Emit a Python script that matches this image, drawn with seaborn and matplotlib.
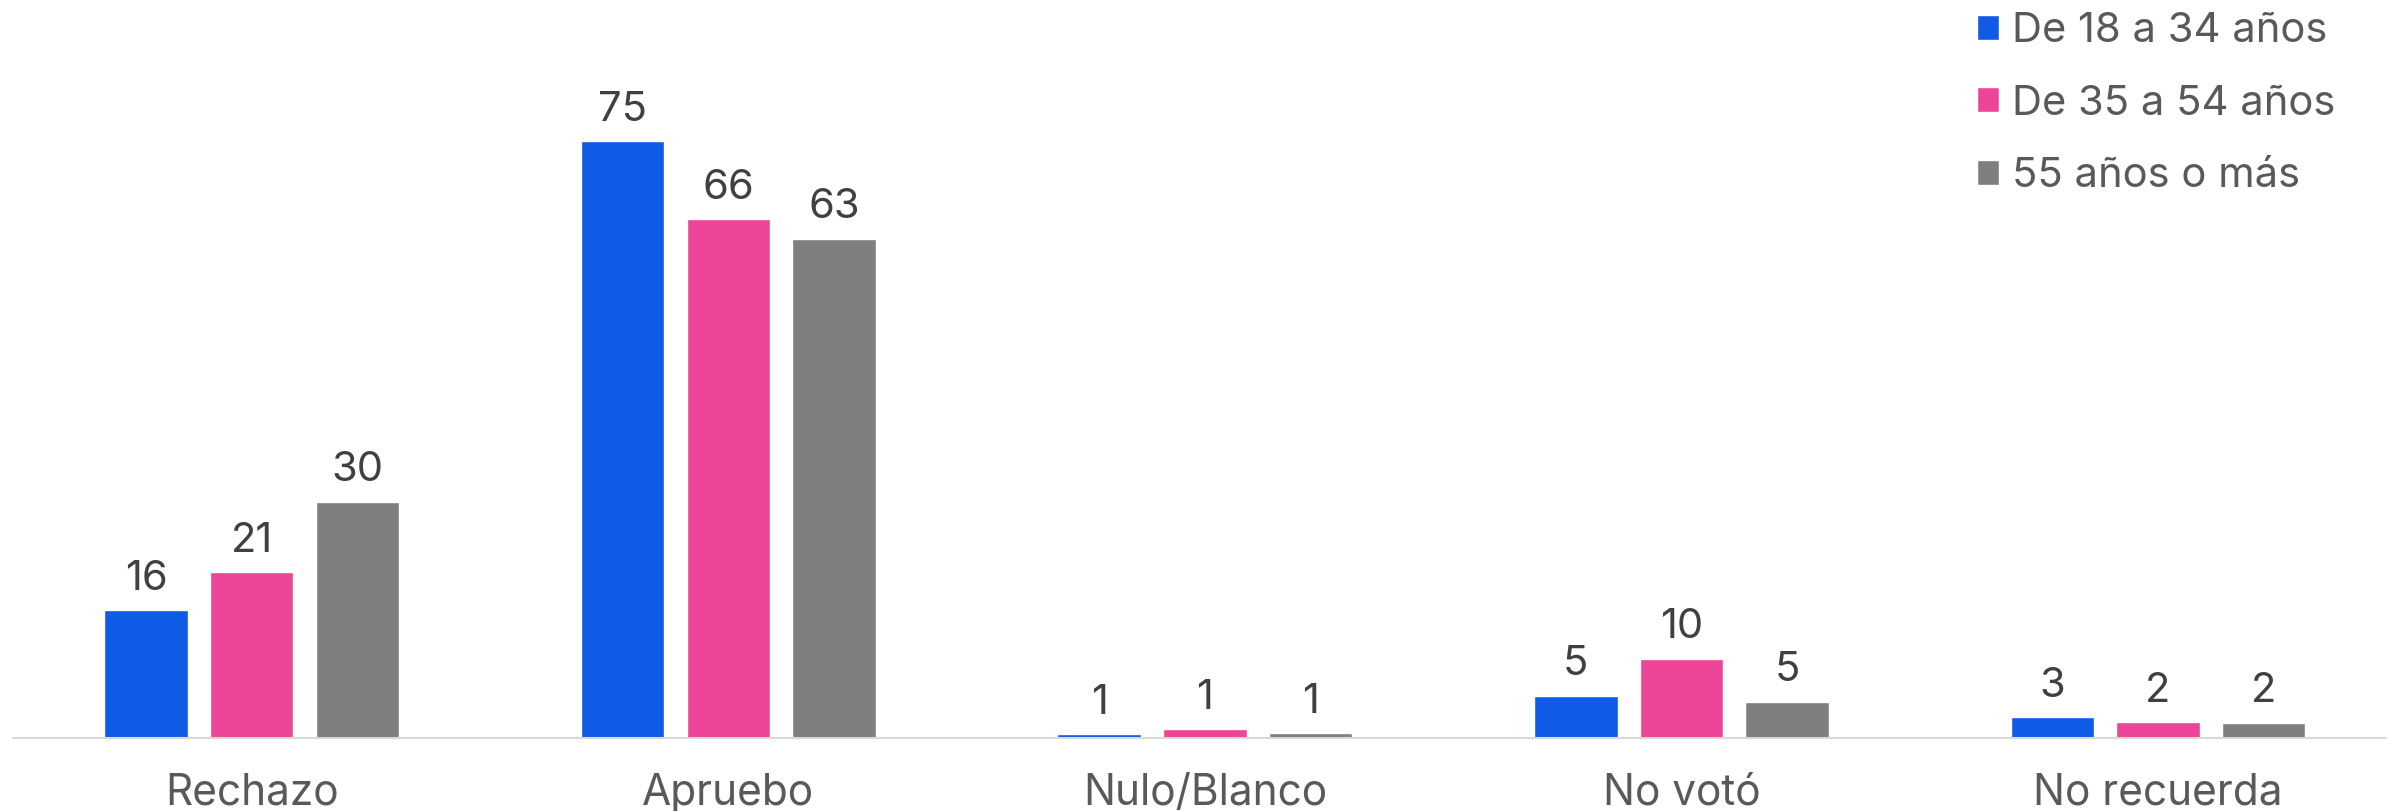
import pandas as pd
import numpy as np
import matplotlib
matplotlib.use('Agg')
import matplotlib.pyplot as plt
import seaborn as sns

# Datos
categorias = ['Rechazo', 'Apruebo', 'Nulo/Blanco', 'No votó', 'No recuerda']
grupos = ['De 18 a 34 años', 'De 35 a 54 años', '55 años o más']
# alturas (valores sin redondear)
v_18_34 = [16.1, 75.2, 0.45, 5.3, 2.6]
v_35_54 = [20.9, 65.4, 1.1, 10.0, 2.0]
v_55_mas = [29.8, 62.9, 0.6, 4.6, 1.9]
# etiquetas mostradas sobre las barras
etq_18_34 = [16, 75, 1, 5, 3]
etq_35_54 = [21, 66, 1, 10, 2]
etq_55_mas = [30, 63, 1, 5, 2]
colores = ['#0F5BE6', '#EC4496', '#7F7F7F']

df = pd.DataFrame({
    'categoria': categorias * 3,
    'grupo': [g for g in grupos for _ in categorias],
    'valor': v_18_34 + v_35_54 + v_55_mas,
})
etiquetas = [etq_18_34, etq_35_54, etq_55_mas]

sns.set_theme(style='white')
plt.rcParams['font.family'] = ['Inter', 'DejaVu Sans']

fig = plt.figure(figsize=(23.87, 8.11), dpi=100)
ax = fig.add_axes([0.0056, 0.09, 0.9983, 0.91])

sns.barplot(data=df, x='categoria', y='valor', hue='grupo', order=categorias,
            hue_order=grupos, palette=colores, saturation=1, width=0.665, gap=0.21,
            ax=ax, legend=True)

for cont, etq in zip(ax.containers, etiquetas):
    ax.bar_label(cont, labels=[str(e) for e in etq], padding=9, fontsize=30, color='#404040')

ax.set_xlim(-0.5, 4.5)
ax.set_ylim(0, 93)
ax.set_xlabel('')
ax.set_ylabel('')
ax.set_yticks([])
ax.tick_params(axis='x', length=0, pad=25, labelsize=30.5, labelcolor='#595959')
for s in ['top', 'left', 'right']:
    ax.spines[s].set_visible(False)
ax.spines['bottom'].set_color('#D9D9D9')
ax.spines['bottom'].set_linewidth(1.5)

ax.legend(loc='upper left', bbox_to_anchor=(1964 / 2387, 1.0), bbox_transform=fig.transFigure,
          frameon=False, fontsize=30, labelcolor='#595959', handlelength=0.55, handleheight=0.55,
          handletextpad=0.3, labelspacing=0.82, borderaxespad=0.0, borderpad=0.3)

fig.savefig('out.png', dpi=100)
